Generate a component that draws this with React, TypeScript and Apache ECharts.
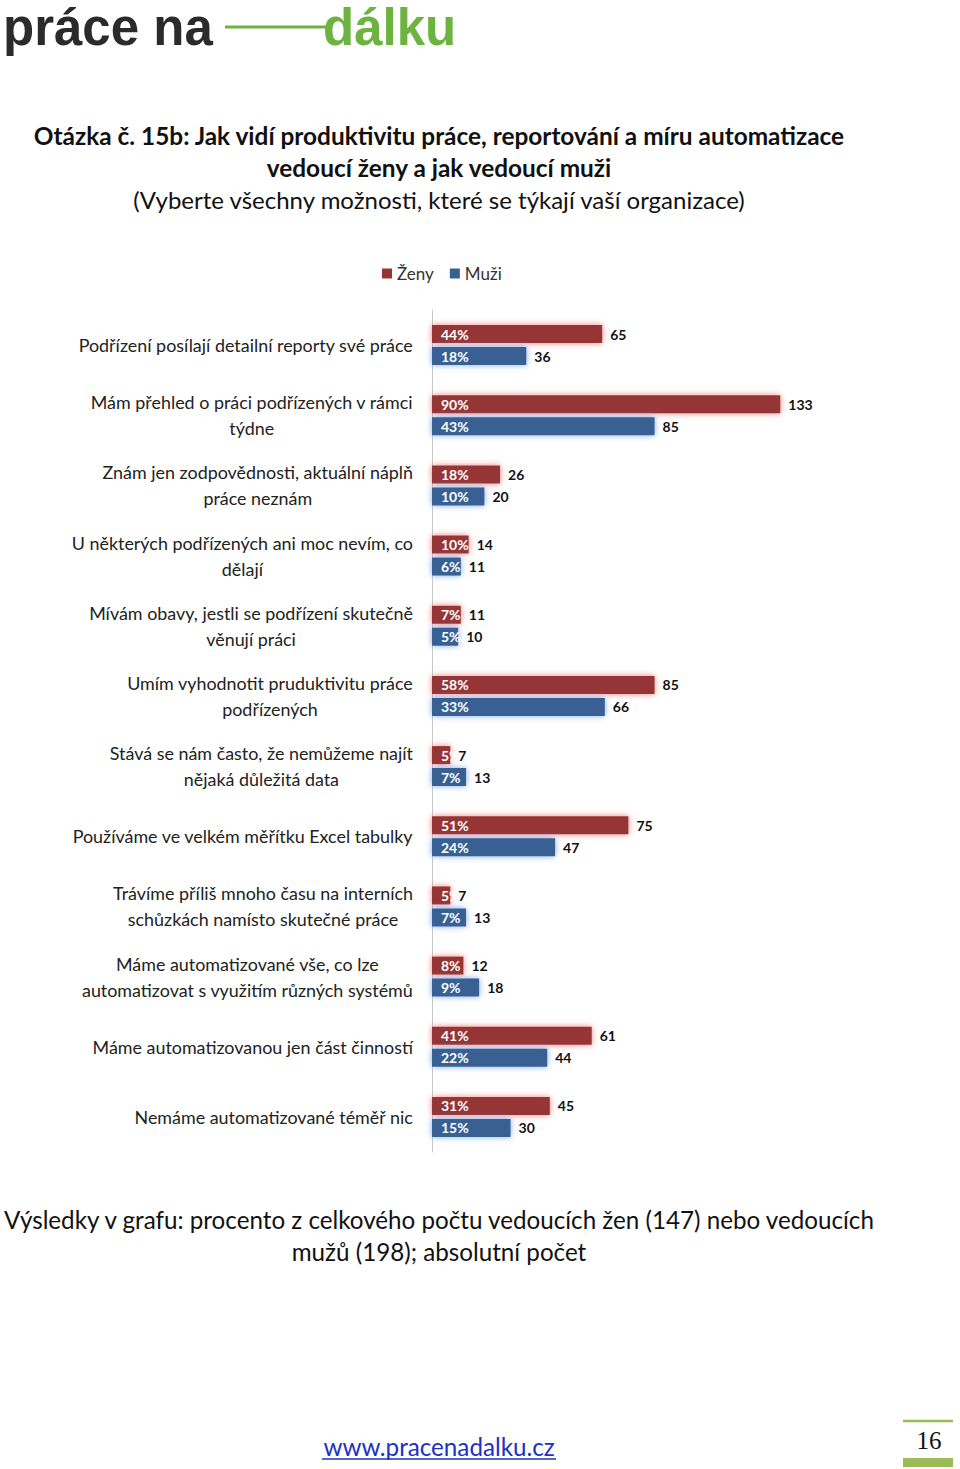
import React, { useEffect, useRef } from "react";
import * as echarts from "echarts";

const categories = [
  "Podřízení posílají detailní reporty své práce",
  "Mám přehled o práci podřízených v rámci\ntýdne",
  "Znám jen zodpovědnosti, aktuální náplň\npráce neznám",
  "U některých podřízených ani moc nevím, co\ndělají",
  "Mívám obavy, jestli se podřízení skutečně\nvěnují práci",
  "Umím vyhodnotit pruduktivitu práce\npodřízených",
  "Stává se nám často, že nemůžeme najít\nnějaká důležitá data",
  "Používáme ve velkém měřítku Excel tabulky",
  "Trávíme příliš mnoho času na interních\nschůzkách namísto skutečné práce",
  "Máme automatizované vše, co lze\nautomatizovat s využitím různých systémů",
  "Máme automatizovanou jen část činností",
  "Nemáme automatizované téměř nic",
];
const zenyCounts = [65, 133, 26, 14, 11, 85, 7, 75, 7, 12, 61, 45];
const muziCounts = [36, 85, 20, 11, 10, 66, 13, 47, 13, 18, 44, 30];
const zenyPct = [44, 90, 18, 10, 7, 58, 5, 51, 5, 8, 41, 31];
const muziPct = [18, 43, 10, 6, 5, 33, 7, 24, 7, 9, 22, 15];
const seriesNames = ["Ženy", "Muži"];

const FONT = "Lato, 'Noto Sans', sans-serif";
const RED = "#963634";
const BLUE = "#376092";

export default function App() {
  const ref = useRef<HTMLDivElement>(null);
  useEffect(() => {
    if (!ref.current) return;
    const chart = echarts.init(ref.current, null, { renderer: "svg" });
    const zeros = categories.map(() => 0);
    const mainSeries = (name: string, counts: number[], pct: number[], color: string, glow: string, stack: string) => [
      {
        name,
        type: "bar",
        stack,
        data: counts,
        barWidth: 18,
        barGap: "22%",
        itemStyle: { color, shadowBlur: 6, shadowColor: glow },
        label: {
          show: true,
          position: "insideLeft",
          distance: 9,
          formatter: (p: any) => pct[p.dataIndex] + "%",
          color: "#fff",
          fontFamily: FONT,
          fontWeight: "bold",
          fontSize: 14,
        },
      },
      {
        name: name + "-n",
        type: "bar",
        stack,
        data: zeros,
        barWidth: 18,
        itemStyle: { color: "transparent" },
        label: {
          show: true,
          position: "right",
          distance: 8,
          formatter: (p: any) => String(counts[p.dataIndex]),
          color: "#111",
          fontFamily: FONT,
          fontWeight: "bold",
          fontSize: 14,
        },
      },
    ];
    chart.setOption({
      animation: false,
      backgroundColor: "#fff",
      textStyle: { fontFamily: FONT },
      legend: {
        data: seriesNames,
        left: 377,
        top: 260,
        icon: "rect",
        itemWidth: 10,
        itemHeight: 10,
        itemGap: 16,
        textStyle: { fontSize: 17, color: "#333", fontFamily: FONT },
      },
      grid: { left: 432, top: 310, width: 419, bottom: 317, containLabel: false },
      xAxis: {
        type: "value",
        min: 0,
        max: 160,
        show: false,
      },
      yAxis: {
        type: "category",
        inverse: true,
        data: categories,
        axisLine: { show: true, lineStyle: { color: "#c8c8c8", width: 1 } },
        axisTick: { show: false },
        axisLabel: {
          margin: 19,
          align: "right",
          formatter: (v: string) => v.split("\n").map((l) => `{c|${l}}`).join("\n"),
          rich: {
            c: { align: "center", fontSize: 17.9, fontFamily: FONT, color: "#222", lineHeight: 26 },
          },
        },
      },
      series: [
        ...mainSeries(seriesNames[0], zenyCounts, zenyPct, RED, "rgba(240,110,110,0.9)", "z"),
        ...mainSeries(seriesNames[1], muziCounts, muziPct, BLUE, "rgba(110,160,240,0.9)", "m"),
      ],
      graphic: [
        { type: "text", x: 3, y: 27, style: { text: "práce na", fontSize: 51, fontWeight: "bold", fontFamily: "'Liberation Sans', Arial, sans-serif", fill: "#2b2b2b", verticalAlign: "middle" } },
        { type: "line", shape: { x1: 225, y1: 27, x2: 330, y2: 27 }, style: { stroke: "#6cb33f", lineWidth: 3 } },
        { type: "text", x: 323, y: 27, style: { text: "dálku", fontSize: 51, fontWeight: "bold", fontFamily: "'Liberation Sans', Arial, sans-serif", fill: "#6cb33f", verticalAlign: "middle" } },
        { type: "text", x: 439, y: 135, style: { text: "Otázka č. 15b: Jak vidí produktivitu práce, reportování a míru automatizace", fontSize: 24.4, fontWeight: "bold", fontFamily: FONT, fill: "#111", align: "center", verticalAlign: "middle" } },
        { type: "text", x: 439, y: 167, style: { text: "vedoucí ženy a jak vedoucí muži", fontSize: 24.4, fontWeight: "bold", fontFamily: FONT, fill: "#111", align: "center", verticalAlign: "middle" } },
        { type: "text", x: 439, y: 199, style: { text: "(Vyberte všechny možnosti, které se týkají vaší organizace)", fontSize: 24, fontFamily: FONT, fill: "#111", align: "center", verticalAlign: "middle" } },
        { type: "text", x: 439, y: 1219, style: { text: "Výsledky v grafu: procento z celkového počtu vedoucích žen (147) nebo vedoucích", fontSize: 24.2, fontFamily: FONT, fill: "#111", align: "center", verticalAlign: "middle" } },
        { type: "text", x: 439, y: 1251, style: { text: "mužů (198); absolutní počet", fontSize: 24.2, fontFamily: FONT, fill: "#111", align: "center", verticalAlign: "middle" } },
        { type: "text", x: 439, y: 1446, style: { text: "www.pracenadalku.cz", fontSize: 24.2, fontFamily: FONT, fill: "#2030c8", align: "center", verticalAlign: "middle" } },
        { type: "line", shape: { x1: 322, y1: 1459, x2: 556, y2: 1459 }, style: { stroke: "#2030c8", lineWidth: 1.5 } },
        { type: "line", shape: { x1: 903, y1: 1421, x2: 953, y2: 1421 }, style: { stroke: "#9bbb59", lineWidth: 2.5 } },
        { type: "text", x: 929, y: 1440, style: { text: "16", fontSize: 25, fontFamily: "'Liberation Serif', 'DejaVu Serif', serif", fill: "#111", align: "center", verticalAlign: "middle" } },
        { type: "rect", shape: { x: 903, y: 1458, width: 50, height: 9 }, style: { fill: "#9bbb59" } },
      ],
    });
    return () => chart.dispose();
  }, []);
  return (
    <div
      ref={ref}
      style={{ position: "absolute", left: 0, top: 0, width: 960, height: 1469, background: "#fff" }}
    />
  );
}
